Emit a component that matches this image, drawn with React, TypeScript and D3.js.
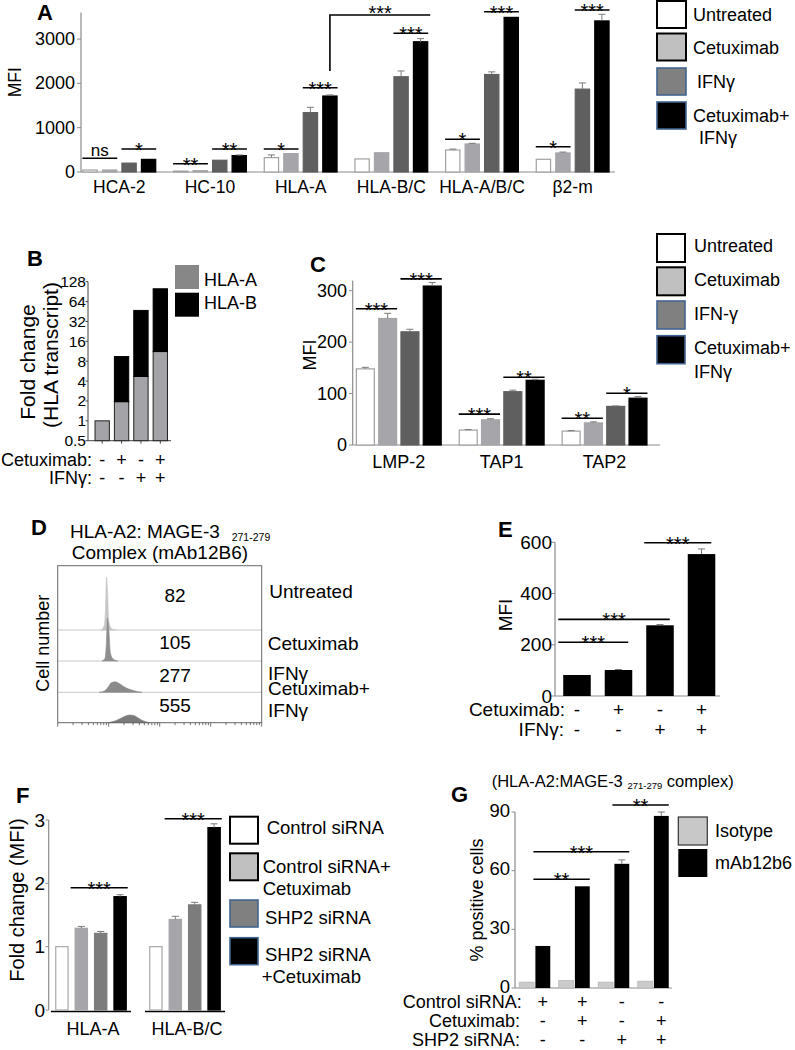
import React from 'react';
import * as d3 from 'd3';

const FONT = '"Liberation Sans", Arial, Helvetica, sans-serif';

// ---------------- Panel A ----------------
const aCategories = ['HCA-2', 'HC-10', 'HLA-A', 'HLA-B/C', 'HLA-A/B/C', 'β2-m'];
const aUntreated = [45, 20, 325, 295, 497, 287];
const aCetuximab = [45, 30, 415, 435, 632, 430];
const aIFNg = [200, 265, 1340, 2150, 2200, 1870];
const aCombo = [285, 370, 1715, 2940, 3490, 3410];
const aErrUntreated = [5, 5, 60, 10, 20, 10];
const aErrCetuximab = [5, 5, 10, 10, 15, 20];
const aErrIFNg = [10, 10, 120, 130, 60, 140];
const aErrCombo = [10, 15, 25, 70, 10, 150];
const aTicks = [0, 1000, 2000, 3000];
const aSig = [
  { cat: 'HCA-2', from: 0, to: 1, level: 309, label: 'ns' },
  { cat: 'HCA-2', from: 2, to: 3, level: 519, label: '*' },
  { cat: 'HC-10', from: 0, to: 1, level: 187, label: '**' },
  { cat: 'HC-10', from: 2, to: 3, level: 519, label: '**' },
  { cat: 'HLA-A', from: 0, to: 1, level: 519, label: '*' },
  { cat: 'HLA-A', from: 2, to: 3, level: 1903, label: '***' },
  { cat: 'HLA-B/C', from: 2, to: 3, level: 3131, label: '***' },
  { cat: 'HLA-A/B/C', from: 0, to: 1, level: 738, label: '*' },
  { cat: 'HLA-A/B/C', from: 2, to: 3, level: 3618, label: '***' },
  { cat: 'β2-m', from: 0, to: 1, level: 571, label: '*' },
  { cat: 'β2-m', from: 2, to: 3, level: 3657, label: '***' },
];
const aBracketLow = 2280;
const aBracketHigh = 3545;
const legendA = ['Untreated', 'Cetuximab', 'IFNγ', 'Cetuximab+', 'IFNγ'];

// ---------------- Panel B ----------------
const bConditions = ['c1', 'c2', 'c3', 'c4'];
const bHLAA = [1, 1.95, 4.7, 11.2];
const bHLAB = [0, 7.45, 42.3, 88.8];
const bTicks = [0.5, 1, 2, 4, 8, 16, 32, 64, 128];
const bCetuximab = ['-', '+', '-', '+'];
const bIFNg = ['-', '-', '+', '+'];

// ---------------- Panel C ----------------
const cCategories = ['LMP-2', 'TAP1', 'TAP2'];
const cUntreated = [148, 29, 27];
const cCetuximab = [246, 49, 43];
const cIFNg = [220, 103.6, 75];
const cCombo = [309, 125.8, 91];
const cErrUntreated = [3, 1, 1];
const cErrCetuximab = [10, 2, 2];
const cErrIFNg = [5, 3, 1];
const cErrCombo = [7, 2, 3];
const cTicks = [0, 100, 200, 300];
const cSig = [
  { cat: 'LMP-2', from: 0, to: 1, level: 265, label: '***' },
  { cat: 'LMP-2', from: 2, to: 3, level: 323, label: '***' },
  { cat: 'TAP1', from: 0, to: 1, level: 60, label: '***' },
  { cat: 'TAP1', from: 2, to: 3, level: 131.6, label: '**' },
  { cat: 'TAP2', from: 0, to: 1, level: 52, label: '**' },
  { cat: 'TAP2', from: 2, to: 3, level: 100.5, label: '*' },
];
const legendC = ['Untreated', 'Cetuximab', 'IFN-γ', 'Cetuximab+', 'IFNγ'];

// ---------------- Panel D ----------------
const dRows = ['Untreated', 'Cetuximab', 'IFNγ', 'Cetuximab+IFNγ'];
const dMFI = ['82', '105', '277', '555'];
const dHistUntreated: [number, number][] = [[7.07, 0], [8.09, 7], [8.65, 36], [9.05, 96], [9.47, 73], [10.1, 15], [11.6, 2], [13.9, 0]];
const dHistCetuximab: [number, number][] = [[7.39, 0], [8.46, 5], [9.05, 36], [9.47, 78], [10.1, 55], [10.8, 15], [12.1, 4], [15.2, 0]];
const dHistIFNg: [number, number][] = [[6.5, 0], [8.09, 2], [9.69, 9], [11.1, 17], [13.3, 19], [16.7, 15], [20.9, 9], [27.4, 4.5], [37.6, 1], [45, 0]];
const dHistCombo: [number, number][] = [[9.69, 0], [12.1, 2], [15.2, 5.5], [20, 11], [26.2, 14], [32.8, 12], [41.1, 6.5], [51.5, 2], [64.6, 0]];

// ---------------- Panel E ----------------
const eConditions = ['e1', 'e2', 'e3', 'e4'];
const eMFI = [82, 101.5, 276, 554];
const eErr = [1, 2, 3, 20];
const eTicks = [0, 200, 400, 600];
const eCetuximab = ['-', '+', '-', '+'];
const eIFNg = ['-', '-', '+', '+'];
const eSig = [
  { from: 0, to: 1, level: 210, label: '***' },
  { from: 0, to: 2, level: 299, label: '***' },
  { from: 2, to: 3, level: 598, label: '***' },
];

// ---------------- Panel F ----------------
const fCategories = ['HLA-A', 'HLA-B/C'];
const fControl = [1, 1];
const fControlCetux = [1.29, 1.43];
const fSHP2 = [1.21, 1.66];
const fSHP2Cetux = [1.79, 2.88];
const fErrControlCetux = [0.03, 0.05];
const fErrSHP2 = [0.03, 0.04];
const fErrSHP2Cetux = [0.03, 0.06];
const fTicks = [0, 1, 2, 3];
const fSig = [
  { cat: 'HLA-A', from: 1, to: 3, level: 1.93, label: '***' },
  { cat: 'HLA-B/C', from: 1, to: 3, level: 3.02, label: '***' },
];
const legendF = ['Control siRNA', 'Control siRNA+', 'Cetuximab', 'SHP2 siRNA', 'SHP2 siRNA', '+Cetuximab'];

// ---------------- Panel G ----------------
const gConditions = ['g1', 'g2', 'g3', 'g4'];
const gIsotype = [3, 3.8, 3, 3.5];
const gMAb = [21.5, 52, 63.5, 88];
const gErrMAb = [0, 0, 2, 2];
const gTicks = [0, 30, 60, 90];
const gControl = ['+', '+', '-', '-'];
const gCetuximab = ['-', '+', '-', '+'];
const gSHP2 = ['-', '-', '+', '+'];
const gSig = [
  { from: 0, to: 1, level: 55.6, label: '**' },
  { from: 0, to: 2, level: 69.7, label: '***' },
  { from: 2, to: 3, level: 93.6, label: '**' },
];

const fills4 = ['#ffffff', '#a6a6aa', '#5f5f5f', '#000000'];
const strokes4 = ['#a0a0a0', '#a6a6aa', '#5f5f5f', '#000000'];
const legendFills = ['#ffffff', '#c0c0c0', '#808080', '#000000'];
const legendStrokes = ['#000000', '#000000', '#41638f', '#41638f'];

function Sig({ x1, x2, y, label }: { x1: number; x2: number; y: number; label: string }) {
  return (
    <g>
      <line x1={x1} x2={x2} y1={y} y2={y} stroke="#000" strokeWidth={1.6} />
      {label === 'ns' ? (
        <text x={(x1 + x2) / 2} y={y - 2.5} fontSize={17} textAnchor="middle">ns</text>
      ) : (
        <text x={(x1 + x2) / 2} y={y + 8} fontSize={20} textAnchor="middle">{label}</text>
      )}
    </g>
  );
}

function ErrBar({ x, y1, y2 }: { x: number; y1: number; y2: number }) {
  if (Math.abs(y1 - y2) < 0.5) return null;
  return (
    <g stroke="#7a7a7a" strokeWidth={1}>
      <line x1={x} x2={x} y1={y1} y2={y2} />
      <line x1={x - 3.5} x2={x + 3.5} y1={y2} y2={y2} />
    </g>
  );
}

function Legend4({ x, ys, w, h, labels, labelX, textYs }: any) {
  return (
    <g>
      {ys.map((y: number, i: number) => (
        <rect key={i} x={x} y={y} width={w} height={h} fill={legendFills[i]} stroke={legendStrokes[i]} strokeWidth={i < 2 ? 2 : 1.6} />
      ))}
      {labels.map((t: string, i: number) => (
        <text key={i} x={labelX[i]} y={textYs[i]} fontSize={18} dominantBaseline="central">{t}</text>
      ))}
    </g>
  );
}

export default function App() {
  // ===== A =====
  const aX = d3.scaleBand<string>().domain(aCategories).range([74, 618]);
  const aIn = d3.scaleBand<number>().domain([0, 1, 2, 3]).range([-39, 39]).paddingInner(0.215).paddingOuter(0.1075);
  const aY = d3.scaleLinear().domain([0, 3600]).range([172, 12.5]);
  const aSeries = [aUntreated, aCetuximab, aIFNg, aCombo];
  const aErrs = [aErrUntreated, aErrCetuximab, aErrIFNg, aErrCombo];
  const aBarX = (c: string, i: number) => (aX(c) as number) + aX.bandwidth() / 2 + (aIn(i) as number);

  // ===== B =====
  const bX = d3.scaleBand<string>().domain(bConditions).range([92.5, 170]).paddingInner(0.26).paddingOuter(0.13);
  const bY = d3.scaleLog().base(2).domain([0.5, 128]).range([440.7, 281.7]);

  // ===== C =====
  const cX = d3.scaleBand<string>().domain(cCategories).range([347.35, 656]);
  const cIn = d3.scaleBand<number>().domain([0, 1, 2, 3]).range([-44.6, 44.6]).paddingInner(0.15).paddingOuter(0.075);
  const cY = d3.scaleLinear().domain([0, 320]).range([445, 280.4]);
  const cSeries = [cUntreated, cCetuximab, cIFNg, cCombo];
  const cErrs = [cErrUntreated, cErrCetuximab, cErrIFNg, cErrCombo];
  const cBarX = (c: string, i: number) => (cX(c) as number) + cX.bandwidth() / 2 + (cIn(i) as number);

  // ===== D =====
  const dX = d3.scaleLog().domain([1, 10000]).range([57.7, 261.7]);
  const dBase = [630, 661, 692.3, 722.7];
  const dCount = d3.scaleLinear().domain([0, 100]).range([0, 55]);
  const dHists = [dHistUntreated, dHistCetuximab, dHistIFNg, dHistCombo];
  const dFills = ['#c6c6c6', '#8e8e8e', '#8a8a8a', '#7a7a7a'];
  const dTicks: { v: number; major: boolean }[] = [];
  for (let e = 0; e < 4; e++) for (let m = 1; m < 10; m++) dTicks.push({ v: m * Math.pow(10, e), major: m === 1 });
  dTicks.push({ v: 10000, major: true });

  // ===== E =====
  const eX = d3.scaleBand<string>().domain(eConditions).range([556.25, 722.25]).paddingInner(0.337).paddingOuter(0.168);
  const eY = d3.scaleLinear().domain([0, 600]).range([696, 542.3]);

  // ===== F =====
  const fX = d3.scaleBand<string>().domain(fCategories).range([51, 225]).paddingInner(0.149);
  const fIn = d3.scaleBand<number>().domain([0, 1, 2, 3]).range([-38.8, 38.8]).paddingInner(0.314).paddingOuter(0.157);
  const fY = d3.scaleLinear().domain([0, 3]).range([1010, 820]);
  const fSeries = [fControl, fControlCetux, fSHP2, fSHP2Cetux];
  const fErrs = [[0, 0], fErrControlCetux, fErrSHP2, fErrSHP2Cetux];
  const fFills = ['#ffffff', '#a6a6aa', '#7c7c7c', '#000000'];
  const fStrokes = ['#a8a8a8', '#a6a6aa', '#7c7c7c', '#000000'];
  const fBarX = (c: string, i: number) => (fX(c) as number) + fX.bandwidth() / 2 + (fIn(i) as number);

  // ===== G =====
  const gX = d3.scaleBand<string>().domain(gConditions).range([515, 673]);
  const gIn = d3.scaleBand<number>().domain([0, 1]).range([-15.5, 15.5]).paddingInner(0.08);
  const gY = d3.scaleLinear().domain([0, 90]).range([988, 812]);
  const gBarX = (i: number, k: number) => (gX(gConditions[i]) as number) + gX.bandwidth() / 2 + (gIn(k) as number);
  const gMx = (i: number) => gBarX(i, 1) + gIn.bandwidth() / 2;

  const axisGray = '#8c8c8c';

  return (
    <svg width={795} height={1050} style={{ position: 'absolute', left: 0, top: 0, background: '#fff' }} fontFamily={FONT}>
      <rect width={795} height={1050} fill="#fff" />

      {/* ================= PANEL A ================= */}
      <text x={37} y={20} fontSize={22} fontWeight="bold">A</text>
      <text transform={`translate(21,${(aY(0) + aY(3600)) / 2 - 10}) rotate(-90)`} fontSize={17.5} textAnchor="middle">MFI</text>
      <line x1={81} x2={81} y1={aY(0)} y2={aY(3600)} stroke={axisGray} strokeWidth={1.2} />
      <line x1={81} x2={615} y1={aY(0)} y2={aY(0)} stroke={axisGray} strokeWidth={1.2} />
      {aTicks.map((t) => (
        <g key={t}>
          <line x1={77} x2={81} y1={aY(t)} y2={aY(t)} stroke={axisGray} />
          <text x={75} y={aY(t)} fontSize={18} textAnchor="end" dominantBaseline="central">{t}</text>
        </g>
      ))}
      {aCategories.map((c, ci) => (
        <g key={c}>
          {aSeries.map((s, i) => {
            const x = aBarX(c, i);
            const w = aIn.bandwidth();
            return (
              <g key={i}>
                <rect x={x + 0.5} y={aY(s[ci])} width={w - 1} height={aY(0) - aY(s[ci])} fill={fills4[i]} stroke={strokes4[i]} strokeWidth={1.2} />
                <ErrBar x={x + w / 2} y1={aY(s[ci])} y2={aY(s[ci] + aErrs[i][ci])} />
              </g>
            );
          })}
          <text x={(aX(c) as number) + aX.bandwidth() / 2} y={193} fontSize={17.5} textAnchor="middle">{c}</text>
        </g>
      ))}
      {aSig.map((s, i) => (
        <Sig key={i} x1={aBarX(s.cat, s.from)} x2={aBarX(s.cat, s.to) + aIn.bandwidth()} y={aY(s.level)} label={s.label} />
      ))}
      {(() => {
        const xv = aBarX('HLA-A', 3) + aIn.bandwidth() / 2;
        const xr = aBarX('HLA-B/C', 3) + aIn.bandwidth() + 2;
        const yh = aY(aBracketHigh);
        return (
          <g>
            <path d={`M${xv},${aY(aBracketLow)}V${yh}H${xr}`} fill="none" stroke="#000" strokeWidth={1.6} />
            <text x={(xv + xr) / 2} y={yh + 5.5} fontSize={20} textAnchor="middle">***</text>
          </g>
        );
      })()}
      <Legend4 x={657} ys={[1, 33.5, 68, 102]} w={29} h={27} labels={legendA}
        labelX={[693, 693, 697, 693, 699]} textYs={[15, 47.5, 82, 115.5, 137.5]} />

      {/* ================= PANEL B ================= */}
      <text x={27} y={266} fontSize={22} fontWeight="bold">B</text>
      <text transform={`translate(27,362) rotate(-90)`} fontSize={21} textAnchor="middle" dominantBaseline="central">Fold change</text>
      <text transform={`translate(50,355) rotate(-90)`} fontSize={21} textAnchor="middle" dominantBaseline="central">(HLA transcript)</text>
      <line x1={88} x2={88} y1={bY(0.5)} y2={bY(128)} stroke="#444" strokeWidth={1} />
      <line x1={88} x2={171} y1={bY(0.5)} y2={bY(0.5)} stroke="#444" strokeWidth={1} />
      {bTicks.map((t) => (
        <g key={t}>
          <line x1={85.5} x2={88} y1={bY(t)} y2={bY(t)} stroke="#444" />
          <text x={86} y={bY(t)} fontSize={15.5} textAnchor="end" dominantBaseline="central">{t}</text>
        </g>
      ))}
      {bConditions.map((c, i) => {
        const x = bX(c) as number;
        const w = bX.bandwidth();
        const top = bHLAA[i] + bHLAB[i];
        return (
          <g key={c}>
            <line x1={x + w / 2} x2={x + w / 2} y1={bY(0.5)} y2={bY(0.5) + 3} stroke="#444" />
            <rect x={x} y={bY(bHLAA[i])} width={w} height={bY(0.5) - bY(bHLAA[i])} fill="#a4a4a8" stroke="#222" strokeWidth={1} />
            {bHLAB[i] > 0 && (
              <rect x={x} y={bY(top)} width={w} height={bY(bHLAA[i]) - bY(top)} fill="#000" stroke="#000" strokeWidth={1} />
            )}
            <text x={x + w / 2} y={460} fontSize={18} textAnchor="middle" dominantBaseline="central">{bCetuximab[i]}</text>
            <text x={x + w / 2} y={478} fontSize={18} textAnchor="middle" dominantBaseline="central">{bIFNg[i]}</text>
          </g>
        );
      })}
      <text x={92} y={460} fontSize={18} textAnchor="end" dominantBaseline="central">Cetuximab:</text>
      <text x={92} y={478} fontSize={18} textAnchor="end" dominantBaseline="central">IFNγ:</text>
      <rect x={175} y={265} width={24} height={24} fill="#878787" />
      <rect x={175} y={292.7} width={24} height={24} fill="#000" />
      <text x={204} y={280} fontSize={18} dominantBaseline="central">HLA-A</text>
      <text x={204} y={303} fontSize={18} dominantBaseline="central">HLA-B</text>

      {/* ================= PANEL C ================= */}
      <text x={310} y={272} fontSize={22} fontWeight="bold">C</text>
      <text transform={`translate(310,355) rotate(-90)`} fontSize={18} textAnchor="middle" dominantBaseline="central">MFI</text>
      <line x1={352.7} x2={352.7} y1={cY(0)} y2={cY(320)} stroke={axisGray} strokeWidth={1.2} />
      <line x1={352.7} x2={660} y1={cY(0)} y2={cY(0)} stroke={axisGray} strokeWidth={1.2} />
      {cTicks.map((t) => (
        <g key={t}>
          <line x1={349} x2={352.7} y1={cY(t)} y2={cY(t)} stroke={axisGray} />
          <text x={347} y={cY(t)} fontSize={18} textAnchor="end" dominantBaseline="central">{t}</text>
        </g>
      ))}
      {cCategories.map((c, ci) => (
        <g key={c}>
          {cSeries.map((s, i) => {
            const x = cBarX(c, i);
            const w = cIn.bandwidth();
            return (
              <g key={i}>
                <rect x={x + 0.5} y={cY(s[ci])} width={w - 1} height={cY(0) - cY(s[ci])} fill={fills4[i]} stroke={strokes4[i]} strokeWidth={1.2} />
                <ErrBar x={x + w / 2} y1={cY(s[ci])} y2={cY(s[ci] + cErrs[i][ci])} />
              </g>
            );
          })}
          <text x={(cX(c) as number) + cX.bandwidth() / 2} y={468} fontSize={18} textAnchor="middle">{c}</text>
        </g>
      ))}
      {cSig.map((s, i) => (
        <Sig key={i} x1={cBarX(s.cat, s.from)} x2={cBarX(s.cat, s.to) + cIn.bandwidth()} y={cY(s.level)} label={s.label} />
      ))}
      <Legend4 x={657} ys={[234, 267.3, 301, 335.7]} w={28} h={28} labels={legendC}
        labelX={[694, 694, 694, 694, 694]} textYs={[245.7, 280, 314, 348.3, 371.7]} />

      {/* ================= PANEL D ================= */}
      <text x={31} y={535} fontSize={22} fontWeight="bold">D</text>
      <text x={70} y={538.3} fontSize={19}>HLA-A2: MAGE-3</text>
      <text x={231.7} y={541} fontSize={10.5}>271-279</text>
      <text x={71.7} y={559.3} fontSize={19}>Complex (mAb12B6)</text>
      <text transform={`translate(43.3,643.3) rotate(-90)`} fontSize={18} textAnchor="middle" dominantBaseline="central">Cell number</text>
      {dBase.slice(0, 3).map((b, i) => (
        <line key={i} x1={57.7} x2={261.7} y1={b} y2={b} stroke="#c8c8c8" strokeWidth={1} />
      ))}
      {dHists.map((h, i) => {
        const area = d3.area<[number, number]>()
          .x((d) => dX(d[0]))
          .y0(dBase[i])
          .y1((d) => dBase[i] - dCount(d[1]))
          .curve(d3.curveMonotoneX);
        return <path key={i} d={area(h) as string} fill={dFills[i]} stroke={dFills[i]} strokeWidth={0.6} />;
      })}
      <rect x={57.7} y={565.7} width={204} height={157} fill="none" stroke="#666" strokeWidth={1} />
      {dTicks.map((t, i) => (
        <line key={i} x1={dX(t.v)} x2={dX(t.v)} y1={722.7} y2={722.7 + (t.major ? 4 : 2.5)} stroke="#555" strokeWidth={0.8} />
      ))}
      {dMFI.map((m, i) => (
        <text key={i} x={175} y={[595, 642.3, 675, 705.7][i]} fontSize={19} textAnchor="middle" dominantBaseline="central">{m}</text>
      ))}
      <text x={269.3} y={591.7} fontSize={19} dominantBaseline="central">{dRows[0]}</text>
      <text x={267.7} y={643.3} fontSize={19} dominantBaseline="central">{dRows[1]}</text>
      <text x={268} y={673.3} fontSize={19} dominantBaseline="central">{dRows[2]}</text>
      <text x={268} y={688.3} fontSize={19} dominantBaseline="central">Cetuximab+</text>
      <text x={268} y={710.7} fontSize={19} dominantBaseline="central">IFNγ</text>

      {/* ================= PANEL E ================= */}
      <text x={498} y={537} fontSize={22} fontWeight="bold">E</text>
      <text transform={`translate(505,615) rotate(-90)`} fontSize={19} textAnchor="middle" dominantBaseline="central">MFI</text>
      <line x1={555} x2={555} y1={eY(0)} y2={eY(600)} stroke={axisGray} strokeWidth={1.2} />
      <line x1={555} x2={720} y1={eY(0)} y2={eY(0)} stroke={axisGray} strokeWidth={1.2} />
      {eTicks.map((t) => (
        <g key={t}>
          <line x1={551.5} x2={555} y1={eY(t)} y2={eY(t)} stroke={axisGray} />
          <text x={552} y={eY(t)} fontSize={19} textAnchor="end" dominantBaseline="central">{t}</text>
        </g>
      ))}
      {eConditions.map((c, i) => {
        const x = eX(c) as number;
        const w = eX.bandwidth();
        return (
          <g key={c}>
            <rect x={x} y={eY(eMFI[i])} width={w} height={eY(0) - eY(eMFI[i])} fill="#000" />
            <ErrBar x={x + w / 2} y1={eY(eMFI[i])} y2={eY(eMFI[i] + eErr[i])} />
            <text x={x + w / 2} y={709.3} fontSize={19} textAnchor="middle" dominantBaseline="central">{eCetuximab[i]}</text>
            <text x={x + w / 2} y={729.3} fontSize={19} textAnchor="middle" dominantBaseline="central">{eIFNg[i]}</text>
          </g>
        );
      })}
      <text x={565} y={709.3} fontSize={19} textAnchor="end" dominantBaseline="central">Cetuximab:</text>
      <text x={564} y={729.3} fontSize={19} textAnchor="end" dominantBaseline="central">IFNγ:</text>
      {eSig.map((s, i) => {
        const x1 = s.from === 0 ? 558.3 : (eX(eConditions[s.from]) as number) - 2;
        const x2 = (eX(eConditions[s.to]) as number) + eX.bandwidth() - 4;
        return <Sig key={i} x1={x1} x2={x2} y={eY(s.level)} label={s.label} />;
      })}

      {/* ================= PANEL F ================= */}
      <text x={16} y={803} fontSize={22} fontWeight="bold">F</text>
      <text transform={`translate(17,900) rotate(-90)`} fontSize={20} textAnchor="middle" dominantBaseline="central">Fold change (MFI)</text>
      <line x1={48.7} x2={48.7} y1={fY(0)} y2={fY(3)} stroke={axisGray} strokeWidth={1.2} />
      {fTicks.map((t) => (
        <g key={t}>
          <line x1={45.5} x2={48.7} y1={fY(t)} y2={fY(t)} stroke={axisGray} />
          <text x={45} y={fY(t)} fontSize={19} textAnchor="end" dominantBaseline="central">{t}</text>
        </g>
      ))}
      {fCategories.map((c, ci) => (
        <g key={c}>
          <line x1={fX(c) as number} x2={(fX(c) as number) + fX.bandwidth()} y1={1011.5} y2={1011.5} stroke="#000" strokeWidth={1.6} />
          {fSeries.map((s, i) => {
            const x = fBarX(c, i);
            const w = fIn.bandwidth();
            return (
              <g key={i}>
                <rect x={x + 0.5} y={fY(s[ci])} width={w - 1} height={fY(0) - fY(s[ci])} fill={fFills[i]} stroke={fStrokes[i]} strokeWidth={1.2} />
                <ErrBar x={x + w / 2} y1={fY(s[ci])} y2={fY(s[ci] + fErrs[i][ci])} />
              </g>
            );
          })}
          <text x={(fX(c) as number) + fX.bandwidth() / 2 + 2} y={1035} fontSize={18} textAnchor="middle">{c}</text>
        </g>
      ))}
      {fSig.map((s, i) => (
        <Sig key={i} x1={fBarX(s.cat, s.from) - 4} x2={fBarX(s.cat, s.to) + fIn.bandwidth() + 1} y={fY(s.level)} label={s.label} />
      ))}
      {[816.7, 853.3, 900, 937.7].map((y, i) => (
        <rect key={i} x={230} y={y} width={28} height={27} fill={legendFills[i]} stroke={legendStrokes[i]} strokeWidth={i < 2 ? 2 : 1.6} />
      ))}
      {legendF.map((t, i) => (
        <text key={i} x={[266.7, 262.7, 262.7, 265, 265, 261.7][i]} y={[827.3, 866, 888.3, 917.3, 954, 976.7][i]} fontSize={18.5} dominantBaseline="central">{t}</text>
      ))}

      {/* ================= PANEL G ================= */}
      <text x={491.7} y={786.7} fontSize={16.5}>(HLA-A2:MAGE-3 <tspan fontSize={9.5} dy={2.5}>271-279</tspan><tspan dy={-2.5} fontSize={16.5}> complex)</tspan></text>
      <text x={451} y={802} fontSize={22} fontWeight="bold">G</text>
      <text transform={`translate(477,900) rotate(-90)`} fontSize={18} textAnchor="middle" dominantBaseline="central">% positive cells</text>
      <line x1={515} x2={515} y1={gY(0)} y2={gY(90)} stroke={axisGray} strokeWidth={1.2} />
      <line x1={515} x2={672} y1={gY(0)} y2={gY(0)} stroke={axisGray} strokeWidth={1.2} />
      {gTicks.map((t) => (
        <g key={t}>
          <line x1={511.5} x2={515} y1={gY(t)} y2={gY(t)} stroke={axisGray} />
          <text x={510} y={gY(t) - 2} fontSize={18.5} textAnchor="end" dominantBaseline="central">{t}</text>
        </g>
      ))}
      {gConditions.map((c, i) => {
        const w = gIn.bandwidth();
        const xi = gBarX(i, 0);
        const xm = gBarX(i, 1);
        return (
          <g key={c}>
            <rect x={xi} y={gY(gIsotype[i])} width={w} height={gY(0) - gY(gIsotype[i])} fill="#cbcbcb" stroke="#b8b8b8" strokeWidth={0.8} />
            <rect x={xm} y={gY(gMAb[i])} width={w} height={gY(0) - gY(gMAb[i])} fill="#000" />
            <ErrBar x={xm + w / 2} y1={gY(gMAb[i])} y2={gY(gMAb[i] + gErrMAb[i])} />
            <text x={gMx(i)} y={1001.7} fontSize={18} textAnchor="middle" dominantBaseline="central">{gControl[i]}</text>
            <text x={gMx(i)} y={1020.5} fontSize={18} textAnchor="middle" dominantBaseline="central">{gCetuximab[i]}</text>
            <text x={gMx(i)} y={1040} fontSize={18} textAnchor="middle" dominantBaseline="central">{gSHP2[i]}</text>
          </g>
        );
      })}
      <text x={521.7} y={1001.7} fontSize={18} textAnchor="end" dominantBaseline="central">Control siRNA:</text>
      <text x={520} y={1020.5} fontSize={18} textAnchor="end" dominantBaseline="central">Cetuximab:</text>
      <text x={520} y={1040} fontSize={18} textAnchor="end" dominantBaseline="central">SHP2 siRNA:</text>
      {gSig.map((s, i) => (
        <Sig key={i} x1={gBarX(s.from, 1) - 2} x2={gBarX(s.to, 1) + gIn.bandwidth()} y={gY(s.level)} label={s.label} />
      ))}
      <rect x={678.3} y={817} width={29} height={28} fill="#c8c8c8" stroke="#333" strokeWidth={1.2} />
      <rect x={678.3} y={849} width={29} height={28} fill="#000" />
      <text x={715} y={831} fontSize={18} dominantBaseline="central">Isotype</text>
      <text x={715} y={863} fontSize={18} dominantBaseline="central">mAb12b6</text>
    </svg>
  );
}
